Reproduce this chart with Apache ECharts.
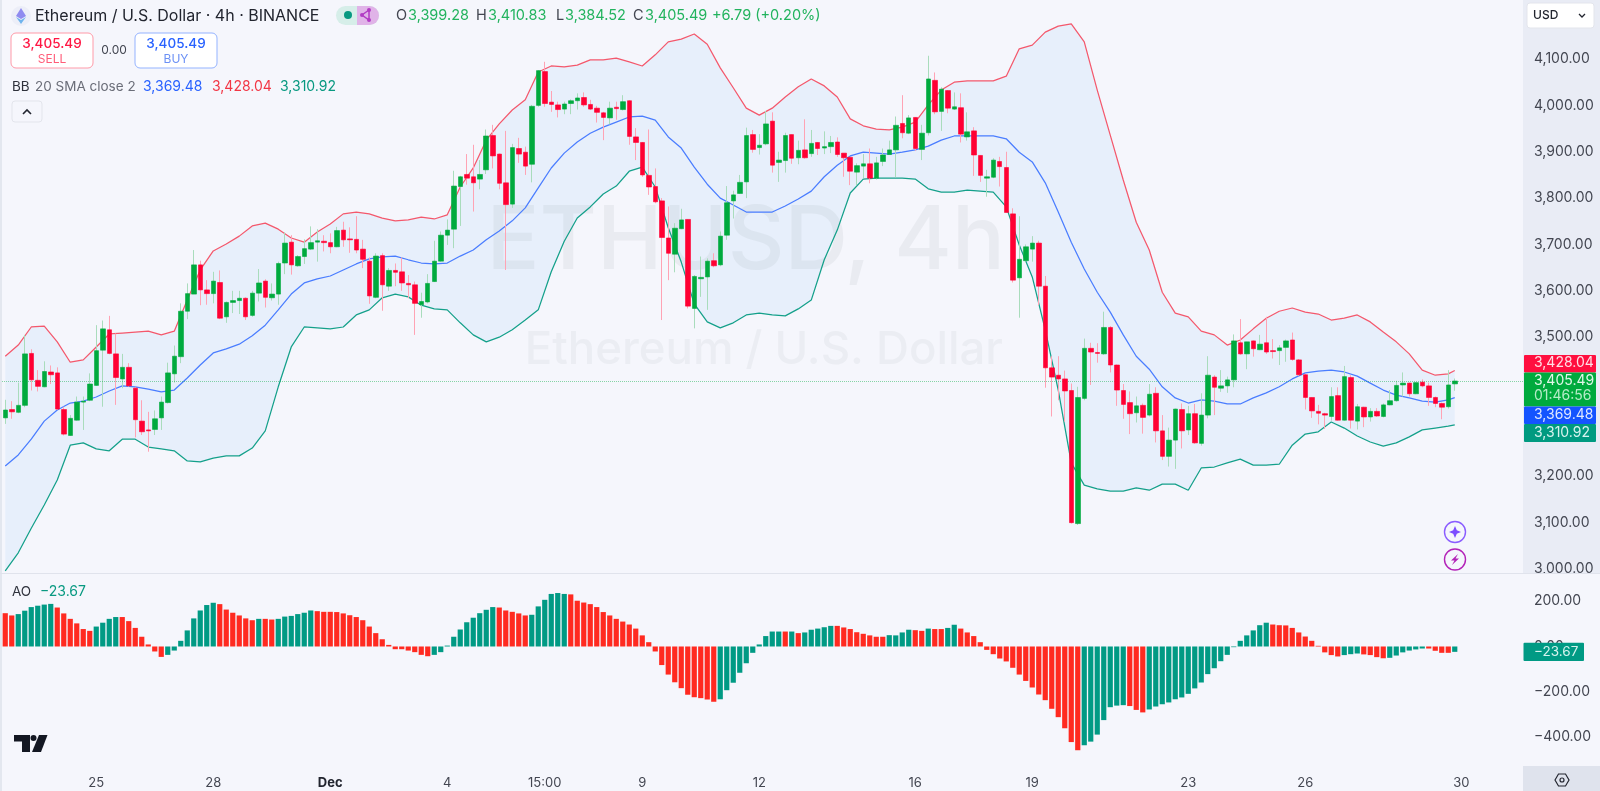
<!DOCTYPE html>
<html><head><meta charset="utf-8">
<style>html,body{margin:0;padding:0;background:#f5f6fc}#c{width:1600px;height:791px}</style>
<script src="https://cdn.jsdelivr.net/npm/echarts@6/dist/echarts.min.js"></script>
</head><body><div id="c"></div>
<script>
const opens=[3326,3344,3338,3353,3465,3407,3393,3425,3423,3344,3288,3321,3360,3364,3396,3472,3516,3464,3410,3435,3390,3319,3300,3301,3326,3359,3421,3458,3556,3593,3656,3602,3594,3618,3544,3575,3579,3584,3547,3595,3621,3585,3593,3660,3705,3654,3674,3690,3705,3707,3704,3695,3731,3712,3711,3690,3664,3586,3676,3610,3644,3641,3616,3613,3570,3576,3620,3664,3720,3733,3825,3851,3846,3841,3861,3935,3895,3833,3787,3907,3899,3873,4000,4073,4007,4001,3992,4004,4010,4017,4002,3994,3984,3973,3996,3991,4010,3932,3920,3849,3825,3794,3714,3679,3734,3754,3562,3626,3630,3665,3656,3720,3794,3810,3835,3937,3909,3917,3966,3877,3881,3937,3887,3904,3896,3920,3908,3911,3921,3897,3888,3856,3869,3874,3843,3879,3894,3904,3961,3940,3974,3905,3941,4054,3987,4032,3992,3995,3932,3945,3892,3843,3845,3879,3866,3766,3628,3665,3690,3703,3610,3434,3418,3410,3385,3098,3368,3476,3467,3464,3521,3440,3385,3359,3337,3353,3332,3379,3298,3243,3278,3344,3300,3335,3271,3332,3414,3390,3395,3408,3488,3464,3492,3473,3488,3471,3471,3478,3494,3451,3419,3370,3340,3335,3329,3374,3321,3413,3319,3349,3328,3340,3329,3354,3363,3397,3401,3378,3403,3395,3370,3357,3350,3399.28];
const closes=[3343,3339,3353,3464,3408,3394,3426,3419,3345,3291,3325,3360,3362,3399,3471,3518,3465,3413,3435,3395,3322,3296,3298,3324,3360,3423,3459,3556,3594,3656,3602,3594,3621,3541,3575,3579,3584,3544,3595,3617,3586,3593,3659,3703,3656,3674,3691,3704,3708,3704,3695,3730,3710,3710,3688,3668,3589,3675,3613,3644,3640,3617,3613,3573,3577,3616,3664,3720,3731,3826,3846,3843,3833,3851,3934,3891,3832,3786,3909,3895,3869,3998,4075,4004,4002,3991,4003,4010,4016,4001,3992,3985,3974,3994,3993,4008,3933,3920,3850,3824,3792,3715,3681,3735,3753,3567,3631,3629,3664,3654,3718,3790,3807,3834,3935,3905,3914,3960,3871,3882,3935,3886,3903,3887,3918,3907,3911,3920,3894,3887,3858,3870,3874,3843,3876,3893,3904,3957,3941,3973,3907,3940,4057,3986,4035,3994,3997,3938,3943,3893,3849,3846,3882,3868,3769,3623,3668,3695,3703,3610,3434,3414,3410,3384,3100,3370,3476,3468,3465,3521,3440,3386,3355,3335,3352,3327,3377,3298,3243,3278,3345,3298,3335,3272,3332,3418,3392,3395,3408,3492,3464,3490,3475,3485,3468,3469,3477,3492,3452,3419,3370,3341,3336,3332,3372,3321,3415,3321,3350,3328,3340,3330,3354,3363,3396,3401,3378,3402,3395,3370,3357,3349,3397,3405.49];
const lows=[3313,3324,3336,3349,3385,3383,3392,3399,3343,3288,3287,3320,3300,3362,3395,3350,3463,3354,3390,3393,3284,3289,3253,3289,3300,3357,3402,3444,3539,3593,3569,3570,3573,3539,3531,3552,3550,3537,3544,3577,3564,3579,3570,3636,3635,3652,3658,3688,3663,3685,3681,3694,3695,3682,3681,3649,3572,3584,3557,3600,3610,3600,3584,3505,3542,3573,3619,3663,3699,3692,3740,3829,3771,3819,3852,3864,3819,3645,3779,3876,3850,3834,3997,3997,3986,3974,3981,3981,3991,3997,3990,3963,3925,3959,3969,3989,3915,3882,3846,3807,3789,3537,3623,3640,3733,3562,3519,3587,3559,3651,3653,3710,3756,3809,3800,3898,3894,3914,3855,3835,3855,3874,3873,3885,3889,3893,3895,3897,3889,3846,3828,3828,3843,3832,3840,3869,3893,3845,3929,3938,3902,3882,3935,3981,3945,3983,3990,3920,3924,3848,3835,3803,3843,3825,3769,3618,3542,3663,3663,3569,3391,3329,3364,3318,3098,3095,3364,3397,3445,3462,3424,3352,3324,3291,3316,3292,3329,3273,3235,3221,3216,3260,3289,3270,3266,3325,3332,3382,3380,3392,3462,3431,3458,3472,3464,3454,3440,3447,3449,3416,3344,3326,3312,3302,3320,3320,3320,3303,3301,3306,3318,3328,3327,3353,3361,3372,3372,3377,3392,3352,3349,3323,3346,3384.52];
const highs=[3365,3362,3402,3505,3474,3429,3448,3439,3435,3350,3332,3372,3372,3422,3526,3536,3546,3508,3464,3444,3393,3364,3339,3342,3372,3445,3482,3573,3616,3688,3665,3623,3641,3644,3577,3600,3600,3586,3600,3647,3625,3616,3663,3726,3720,3677,3711,3739,3733,3720,3724,3738,3749,3737,3761,3710,3672,3681,3681,3649,3659,3672,3634,3620,3596,3636,3708,3728,3754,3859,3848,3895,3915,3882,3948,3958,3896,3945,3917,3930,3911,4001,4076,4094,4031,4008,4008,4013,4026,4028,4012,3999,3986,4008,4008,4022,4011,3951,3921,3948,3864,3800,3782,3746,3777,3754,3634,3674,3670,3681,3728,3826,3816,3850,3952,3947,3938,3988,3985,3900,3941,3937,3924,3970,3947,3921,3944,3934,3931,3897,3889,3875,3895,3907,3889,3907,3924,3976,4022,3979,3974,3958,4107,4071,4039,4033,4028,4026,3985,3953,3892,3861,3886,3889,3900,3778,3761,3700,3718,3708,3632,3459,3459,3428,3400,3393,3497,3488,3487,3555,3524,3441,3399,3383,3372,3357,3399,3392,3332,3305,3346,3357,3352,3356,3379,3459,3418,3429,3415,3506,3539,3490,3493,3505,3544,3496,3483,3495,3510,3453,3421,3370,3354,3337,3392,3392,3438,3418,3356,3350,3347,3347,3357,3386,3406,3424,3402,3402,3409,3402,3372,3359,3429,3410.83];
// Bollinger bands read every second bar, then the last bar
const upperBand=[3459,3483,3522,3524,3490,3446,3451,3479,3507,3509,3511,3513,3505,3513,3580,3645,3686,3701,3718,3740,3746,3733,3714,3705,3727,3744,3766,3770,3766,3757,3751,3753,3759,3755,3764,3824,3865,3925,3960,3990,4012,4072,4085,4083,4087,4098,4098,4102,4094,4085,4109,4137,4143,4154,4132,4081,4038,3994,3979,3994,4018,4040,4057,4042,4018,3971,3956,3949,3947,3953,3964,4001,4033,4050,4053,4053,4053,4063,4122,4130,4158,4171,4176,4137,4033,3936,3839,3748,3688,3597,3552,3544,3513,3505,3483,3494,3518,3541,3556,3563,3554,3550,3537,3541,3548,3533,3511,3490,3464,3429,3418,3421,3428.04];
const middleBand=[3222,3246,3280,3319,3343,3358,3362,3371,3384,3395,3393,3388,3382,3386,3412,3440,3466,3475,3485,3503,3526,3559,3593,3617,3626,3632,3645,3658,3669,3673,3675,3667,3660,3658,3660,3675,3688,3710,3729,3751,3779,3822,3865,3897,3921,3940,3953,3964,3975,3977,3968,3932,3908,3867,3830,3800,3785,3770,3770,3770,3783,3798,3815,3846,3871,3891,3899,3897,3895,3899,3904,3912,3925,3934,3934,3934,3934,3928,3899,3878,3833,3770,3705,3647,3597,3554,3505,3459,3431,3393,3369,3358,3365,3362,3356,3356,3369,3380,3393,3410,3423,3427,3429,3425,3416,3401,3386,3375,3369,3362,3360,3365,3369.48];
const lowerBand=[2996,3035,3088,3138,3192,3267,3272,3259,3255,3280,3280,3263,3259,3255,3233,3231,3239,3244,3244,3261,3298,3393,3479,3522,3520,3518,3522,3548,3559,3585,3593,3587,3569,3561,3559,3531,3505,3490,3500,3516,3537,3559,3641,3707,3757,3781,3809,3826,3858,3867,3824,3736,3662,3572,3533,3520,3531,3548,3552,3548,3546,3561,3580,3667,3731,3811,3841,3843,3843,3843,3841,3820,3813,3813,3817,3815,3813,3781,3699,3630,3516,3386,3229,3181,3173,3168,3168,3175,3170,3183,3183,3170,3218,3220,3229,3237,3224,3224,3226,3267,3291,3296,3317,3304,3287,3274,3265,3272,3285,3300,3304,3308,3310.92];
const aoValues=[147,137,143,158,174,180,185,188,172,146,122,102,77,69,88,105,122,130,130,112,82,43,9,-22,-46,-37,-18,25,71,124,159,183,193,187,163,149,137,124,116,122,122,119,122,132,135,143,149,159,156,153,153,152,146,138,130,116,88,59,32,7,-12,-12,-18,-25,-37,-43,-37,-25,4,43,75,107,127,147,162,174,172,159,153,146,137,140,177,206,232,236,232,230,202,194,187,174,152,137,122,110,97,79,49,19,-22,-82,-124,-158,-184,-213,-224,-228,-234,-244,-233,-193,-160,-116,-74,-28,9,46,66,66,66,66,59,62,74,79,85,91,91,84,77,63,56,49,43,43,50,49,62,74,72,69,79,77,77,82,96,79,62,46,19,-15,-34,-53,-66,-94,-124,-152,-181,-212,-237,-275,-312,-361,-422,-458,-436,-420,-389,-325,-268,-261,-259,-263,-280,-291,-278,-265,-255,-247,-233,-225,-209,-185,-159,-122,-96,-65,-37,-3,25,49,71,94,105,97,94,93,82,62,44,25,3,-26,-38,-44,-38,-34,-31,-35,-38,-47,-52,-50,-40,-26,-18,-13,-9,-9,-19,-28,-28,-23.67];
const aoRunLengths=[2,6,6,4,7,8,6,1,2,6,18,10,5,6,23,10,1,1,1,5,8,4,2,1,2,2,19,7,3,19,11,3,4,6,4,1]; // alternating red, green
const dayLabels={14:'25',32:'28',50:'Dec',68:'4',83:'15:00',98:'9',116:'12',140:'16',158:'19',182:'23',200:'26',224:'30'};
const priceTicks=[3000,3100,3200,3300,3400,3500,3600,3700,3800,3900,4000,4100];
const aoTicks=[200,0,-200,-400];
const lastPrice=3405.49;

const SLOTS=234, BARS=opens.length;
const UP='#00aa3e', DOWN='#ff0033', UPW='#a9dcbc', DOWNW='#ffa3b4';
const FONT='Inter, "Noto Sans", sans-serif';
const cats=Array.from({length:SLOTS},(_,i)=>dayLabels[i]||'');
const bbIndex=upperBand.map((_,k)=>k<upperBand.length-1?k*2:BARS-1);
const pairs=a=>a.map((v,k)=>[bbIndex[k],v]);
const isUp=i=>closes[i]>=opens[i];
const wickData=opens.map((o,i)=>({value:[o,closes[i],lows[i],highs[i]],itemStyle:{borderColor:isUp(i)?UPW:DOWNW,borderColor0:isUp(i)?UPW:DOWNW}}));
const bodyData=opens.map((o,i)=>[o,closes[i],Math.min(o,closes[i]),Math.max(o,closes[i])]);
const aoColours=[];aoRunLengths.forEach((n,r)=>{for(let j=0;j<n;j++)aoColours.push(r%2?'#009a84':'#ff2a20');});
const aoData=aoValues.map((v,i)=>({value:v,itemStyle:{color:aoColours[i]}}));
const fmt=v=>(v<0?'\u2212':'')+Math.abs(v).toLocaleString('en-US',{minimumFractionDigits:2,maximumFractionDigits:2});

const T=(text,x,y,font,fill,align,z)=>({type:'text',z:z==null?60:z,x,y,silent:true,style:{text,fill,font:font+' '+FONT,align:align||'left',textAlign:align||'left',verticalAlign:'middle',textVerticalAlign:'middle'}});
const R=(x,y,w,h,fill,z,r,stroke)=>({type:'rect',z:z==null?60:z,silent:true,shape:{x,y,width:w,height:h,r:r||0},style:{fill,stroke:stroke||null,lineWidth:1}});
const P=(pts,fill,z)=>({type:'polygon',z:z==null?61:z,silent:true,shape:{points:pts},style:{fill}});
const graphics=[
 R(1523,0,77,573,'#e9ecf5',-5),
 R(0,0,2,791,'#e3e7ef',-5),
 T('ETHUSD, 4h',1005,243,'500 88px','#e9ebf1','right',-4),
 T('Ethereum / U.S. Dollar',1003,350,'500 45.6px','#ebedf3','right',-4),
 R(1523,573,77,20,'#f5f6fc',40),
 R(0,573,1600,1,'#e0e3ec',41),
 // header
 {type:'circle',z:60,silent:true,shape:{cx:21,cy:16,r:10},style:{fill:'#eceef8'}},
 P([[21,8],[26,16],[21,19],[16,16]],'#8f8bf0'),P([[21,20],[26,17],[21,24],[16,17]],'#6fb4ee'),
 T('Ethereum / U.S. Dollar · 4h · BINANCE',35,16,'400 16px','#22252f'),
 R(336,6,43,19,'#d6eee9',60,9.5),
 {type:'circle',z:61,silent:true,shape:{cx:348,cy:15,r:4},style:{fill:'#089981'}},
 R(357,6,22,19,'#e0b3e8',61,[0,9.5,9.5,0]),
 {type:'polyline',z:62,silent:true,shape:{points:[[369,10],[362,15],[369,20],[369,10]]},style:{stroke:'#b23cc4',lineWidth:1.5,fill:null}},
 {type:'circle',z:63,silent:true,shape:{cx:362,cy:15,r:2},style:{fill:'#b23cc4'}},
 {type:'circle',z:63,silent:true,shape:{cx:369,cy:10,r:2},style:{fill:'#b23cc4'}},
 {type:'circle',z:63,silent:true,shape:{cx:369,cy:20,r:2},style:{fill:'#b23cc4'}},
 T('O',396,16,'400 14.5px','#434651'),T('3,399.28',408,16,'400 14.5px','#22b35e'),
 T('H',476,16,'400 14.5px','#434651'),T('3,410.83',488,16,'400 14.5px','#22b35e'),
 T('L',556,16,'400 14.5px','#434651'),T('3,384.52',565,16,'400 14.5px','#22b35e'),
 T('C',633,16,'400 14.5px','#434651'),T('3,405.49',645,16,'400 14.5px','#22b35e'),
 T('+6.79 (+0.20%)',712,16,'400 14.5px','#22b35e'),
 R(11,33,82,35,'#ffffff',60,5,'#ff9aa8'),
 T('3,405.49',52,44,'500 13.5px','#ff1744','center'),T('SELL',52,59,'400 12px','#ff5c78','center'),
 T('0.00',114,50,'400 12px','#434651','center'),
 R(135,33,82,35,'#ffffff',60,5,'#94b3ff'),
 T('3,405.49',176,44,'500 13.5px','#2962ff','center'),T('BUY',176,59,'400 12px','#6b90f5','center'),
 T('BB',12,87,'400 13.5px','#2f323c'),T('20 SMA close 2',35,87,'400 13.5px','#6a6d78'),
 T('3,369.48',143,87,'400 14px','#2962ff'),T('3,428.04',212,87,'400 14px','#f23645'),T('3,310.92',280,87,'400 14px','#089981'),
 R(12,101,30,21,'#f5f6fc',60,3,'#e3e5ec'),
 {type:'polyline',z:61,silent:true,shape:{points:[[23,114],[27,110],[31,114]]},style:{stroke:'#22252f',lineWidth:1.6,fill:null}},
 T('AO',12,592,'400 13.5px','#2f323c'),T('\u221223.67',40,592,'400 14px','#089981'),
 // USD
 R(1527,3,67,25,'#ffffff',60,3,'#e3e5ec'),
 T('USD',1533,15.5,'500 12px','#22252f'),
 {type:'polyline',z:61,silent:true,shape:{points:[[1579,14],[1582,17],[1585,14]]},style:{stroke:'#22252f',lineWidth:1.3,fill:null}},
 // price tags
 R(1524,355,72,17.5,'#ff0f3f',60,1),T('3,428.04',1534,363,'400 14px','#ffdfe5'),
 R(1524,372.5,72,34,'#00aa3e',60,1),T('3,405.49',1534,381,'400 14px','#e2f7ea'),T('01:46:56',1534,396,'400 14px','#b5ecc8'),
 R(1524,406.5,72,17.5,'#1454ff',60,1),T('3,369.48',1534,414.5,'400 14px','#dfe8ff'),
 R(1524,424,72,18,'#009a80',60,1),T('3,310.92',1534,433,'400 14px','#d6f3ee'),
 R(1523.5,642.7,60.5,18.3,'#009a84',60,1),T('\u221223.67',1534,652,'400 13.5px','#d6f3ee'),
 // round buttons
 {type:'circle',z:60,silent:true,shape:{cx:1455,cy:532,r:10.5},style:{fill:'#f5f6fc',stroke:'#8a5cff',lineWidth:1.4}},
 P([[1455,526],[1456.8,530.2],[1461,532],[1456.8,533.8],[1455,538],[1453.2,533.8],[1449,532],[1453.2,530.2]],'#7c4dff'),
 {type:'circle',z:60,silent:true,shape:{cx:1455,cy:559.5,r:10.5},style:{fill:'#f5f6fc',stroke:'#b322b8',lineWidth:1.4}},
 P([[1458,554],[1451,560.5],[1454.5,560.5],[1452,565],[1459,558.5],[1455.5,558.5]],'#b322b8'),
 // logo
 P([[14,735],[30,735],[30,752],[22,752],[22,741.5],[14,741.5]],'#131722'),
 {type:'circle',z:61,silent:true,shape:{cx:33.5,cy:738,r:3},style:{fill:'#131722'}},
 P([[39,735],[47.5,735],[41,752],[32,752]],'#131722'),
 // gear box
 R(1523,766,77,25,'#dfe3ed',30),
 {type:'polygon',z:61,silent:true,shape:{points:[[1555,780],[1558.5,774],[1565.5,774],[1569,780],[1565.5,786],[1558.5,786]]},style:{fill:null,stroke:'#22252f',lineWidth:1.2}},
 {type:'circle',z:61,silent:true,shape:{cx:1562,cy:780,r:2},style:{fill:null,stroke:'#22252f',lineWidth:1.2}}
];

const chart=echarts.init(document.getElementById('c'),null,{renderer:'canvas'});
chart.setOption({
 animation:false,backgroundColor:'#f5f6fc',textStyle:{fontFamily:FONT},
 graphic:{elements:graphics},
 grid:[{left:2,right:77,top:0,height:573,containLabel:false},{left:2,right:77,top:574,height:192,containLabel:false}],
 xAxis:[
  {type:'category',gridIndex:0,data:cats,boundaryGap:true,axisLine:{show:false},axisTick:{show:false},axisLabel:{show:false},splitLine:{show:false}},
  {type:'category',gridIndex:1,data:cats,boundaryGap:true,axisLine:{show:false},axisTick:{show:false},splitLine:{show:false},
   axisLabel:{show:true,margin:11,fontSize:13,color:'#434651',fontFamily:FONT,interval:(i,v)=>v!=='',
    formatter:v=>v==='Dec'?'{b|Dec}':v,rich:{b:{fontWeight:700,fontSize:13,color:'#22252f',fontFamily:FONT}}}}
 ],
 yAxis:[
  {type:'value',gridIndex:0,position:'right',min:2991.4,max:4227.3,axisLine:{show:false},axisTick:{show:false},splitLine:{show:false},
   axisLabel:{customValues:priceTicks,formatter:fmt,margin:11,align:'left',fontSize:14,color:'#434651',fontFamily:FONT}},
  {type:'value',gridIndex:1,position:'right',min:-527.6,max:320,axisLine:{show:false},axisTick:{show:false},splitLine:{show:false},
   axisLabel:{customValues:aoTicks,formatter:fmt,margin:11,align:'left',fontSize:14,color:'#434651',fontFamily:FONT}}
 ],
 series:[
  {type:'custom',name:'BB fill',xAxisIndex:0,yAxisIndex:0,z:1,silent:true,clip:true,data:[[0,upperBand[0]]],
   renderItem:(p,api)=>{
     const top=upperBand.map((v,k)=>api.coord([bbIndex[k],v]));
     const bot=lowerBand.map((v,k)=>api.coord([bbIndex[k],v])).reverse();
     return {type:'polygon',shape:{points:top.concat(bot)},style:{fill:'rgba(45,146,235,0.065)'}};
   }},
  {type:'line',name:'BB upper',data:pairs(upperBand),symbol:'none',z:3,silent:true,lineStyle:{color:'#f4586c',width:1.25}},
  {type:'line',name:'BB basis',data:pairs(middleBand),symbol:'none',z:3,silent:true,lineStyle:{color:'#4a7dff',width:1.25}},
  {type:'line',name:'BB lower',data:pairs(lowerBand),symbol:'none',z:3,silent:true,lineStyle:{color:'#14a08a',width:1.25}},
  {type:'candlestick',name:'wicks',data:wickData,barWidth:1,z:4,silent:true,itemStyle:{color:'transparent',color0:'transparent',borderWidth:1}},
  {type:'candlestick',name:'ETHUSD',data:bodyData,barWidth:5,z:5,silent:true,itemStyle:{color:UP,color0:DOWN,borderColor:UP,borderColor0:DOWN,borderWidth:0.6},
   markLine:{silent:true,symbol:'none',label:{show:false},animation:false,lineStyle:{type:'dotted',color:'rgba(0,170,62,0.45)',width:1},data:[{yAxis:lastPrice}]}},
  {type:'bar',name:'AO',xAxisIndex:1,yAxisIndex:1,data:aoData,barWidth:5.2,silent:true}
 ]
});
</script></body></html>
